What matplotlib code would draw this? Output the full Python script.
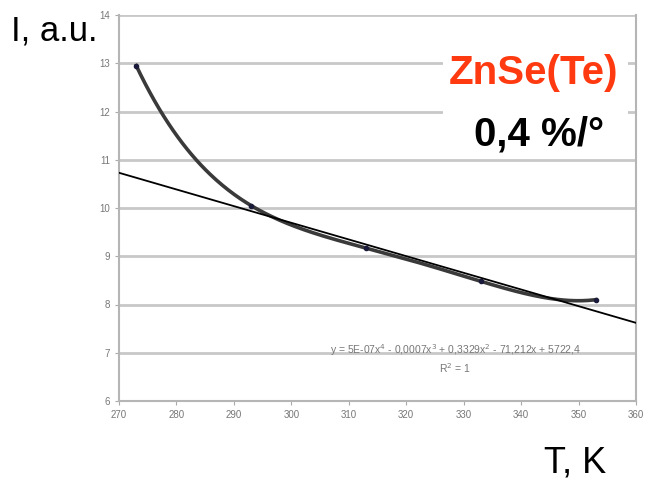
import numpy as np
import matplotlib.pyplot as plt

plt.rcParams['font.family'] = ['Liberation Sans', 'DejaVu Sans']

# measured points
temps = [273, 293, 313, 333, 353]
intensity = [12.95, 10.05, 9.17, 8.48, 8.10]

# straight trend line, values at the ends of the x range
trend_x = [270, 360]
trend_y = [10.73, 7.62]

x_ticks = [270, 280, 290, 300, 310, 320, 330, 340, 350, 360]
y_ticks = [6, 7, 8, 9, 10, 11, 12, 13, 14]

fig = plt.figure(figsize=(6.54, 4.8), dpi=100)
ax = fig.add_axes([119 / 654, 1 - 401 / 480, (636 - 119) / 654, (401 - 15) / 480])

# 4th order polynomial trend through the points (R^2 = 1)
coef = np.polyfit(temps, intensity, 4)
xs = np.linspace(temps[0], temps[-1], 300)
ax.plot(xs, np.polyval(coef, xs), color='#3a3a3a', lw=2.6, zorder=3)
ax.plot(temps, intensity, 'o', color='#1a1a3a', ms=3, zorder=4)
ax.plot(trend_x, trend_y, color='black', lw=1.3, zorder=5)

ax.set_xlim(270, 360)
ax.set_ylim(6, 14)
ax.set_xticks(x_ticks)
ax.set_yticks(y_ticks)
ax.yaxis.grid(True, color='#c8c8c8', lw=2)
ax.set_axisbelow(True)
ax.tick_params(labelsize=7, labelcolor='#777777', color='#aaaaaa', length=3)
ax.spines['top'].set_visible(False)
for side in ['left', 'bottom', 'right']:
    ax.spines[side].set_color('#b5b5b5')
    ax.spines[side].set_linewidth(1.5)

ax.text(328.5, 7.06, 'y = 5E-07x$^4$ - 0,0007x$^3$ + 0,3329x$^2$ - 71,212x + 5722,4',
        fontsize=7.5, color='#777777', ha='center', va='center')
ax.text(328.5, 6.69, 'R$^2$ = 1', fontsize=7.5, color='#777777', ha='center', va='center')

# white label block
ax.add_patch(plt.Rectangle((326.4, 11.04), 32.2, 2.44, facecolor='white',
                           edgecolor='none', zorder=2))
fig.text(534 / 654, 1 - 73 / 480, 'ZnSe(Te)', color='#ff3a10', fontsize=29,
         fontweight='bold', ha='center', va='center')
fig.text(539 / 654, 1 - 134 / 480, '0,4 %/°', color='black', fontsize=29,
         fontweight='bold', ha='center', va='center')

fig.text(11 / 654, 1 - 31 / 480, 'I, a.u.', fontsize=25, ha='left', va='center')
fig.text(575 / 654, 1 - 463 / 480, 'T, K', fontsize=26, ha='center', va='center')

fig.savefig('out.png', dpi=100)
